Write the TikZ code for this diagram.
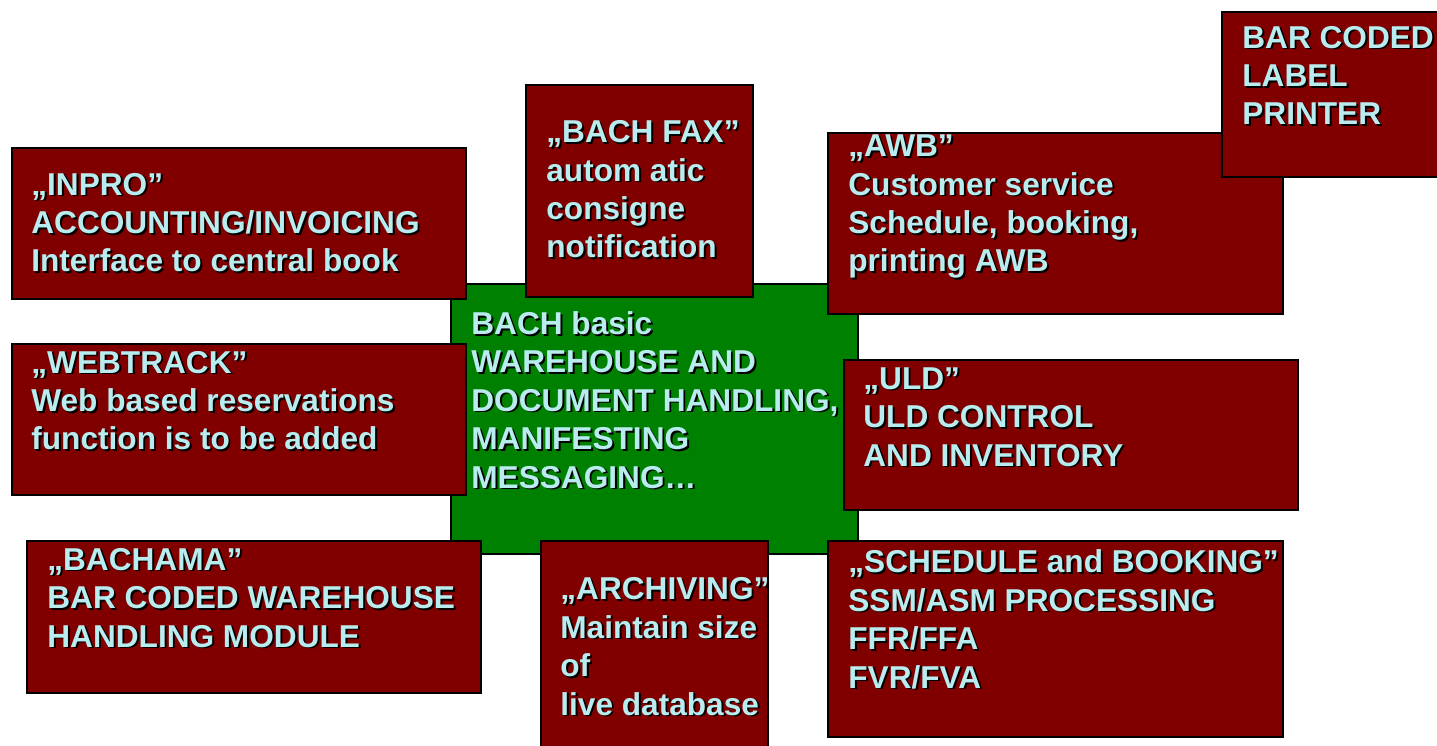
\documentclass[tikz,border=0pt]{standalone}
\usepackage{fontspec}
\setmainfont{Liberation Sans}
\usetikzlibrary{positioning}
\definecolor{boxred}{RGB}{128,0,0}
\definecolor{boxgreen}{RGB}{0,128,0}
\definecolor{txtcyan}{RGB}{185,236,238}
\tikzset{
redbox/.style={
  draw=black,
  line width=1pt,
  fill=boxred,
  anchor=north west,
  inner sep=0pt,
  }
}
\tikzset{
greenbox/.style={
  redbox,
  fill=boxgreen,
  }
}
\tikzset{
txt/.style={
  anchor=base west,
  align=left,
  inner sep=0pt,
  text=txtcyan,
  font=\bfseries\fontsize{18}{21.9}\selectfont,
  },
txtshadow/.style={
  txt,
  text=black,
  xshift=1.1pt,
  yshift=-1.1pt,
  }
}
% text with drop shadow, placed by the baseline of its last line
\newcommand{\shadedtext}[3]{%
  \node[txtshadow] (#1-sh) at (#2) {#3};
  \node[txt] (#1) at (#2) {#3};
}

\begin{document}
\begin{tikzpicture}[x=0.02cm,y=-0.02cm]
    \fill[white] (0,0) rectangle (1437,746);
    \useasboundingbox (0,0) rectangle (1437,746);

    % core system
    \node[greenbox, minimum width=8.14cm, minimum height=5.4cm] (core) at (450,283) {};
    \shadedtext{core_txt}{471,488}{BACH basic\\WAREHOUSE AND\\DOCUMENT HANDLING,\\MANIFESTING\\MESSAGING\dots}

    % left modules
    \node[redbox, minimum width=9.08cm, minimum height=3.02cm] (inpro) at (11,147) {};
    \shadedtext{inpro_txt}{31,272}{„INPRO”\\ACCOUNTING/INVOICING\\Interface to central book}
    \node[redbox, minimum width=9.08cm, minimum height=3.02cm] (webtrack) at (11,343) {};
    \shadedtext{webtrack_txt}{31,450}{„WEBTRACK”\\Web based reservations\\function is to be added}

    % top modules
    \node[redbox, minimum width=4.54cm, minimum height=4.24cm] (fax) at (525,84) {};
    \shadedtext{fax_txt}{546,258}{„BACH FAX”\\autom atic\\consigne\\notification}
    \node[redbox, minimum width=9.10cm, minimum height=3.62cm] (awb) at (827,132) {};
    \shadedtext{awb_txt}{848,272}{„AWB”\\Customer service\\Schedule, booking,\\printing AWB}
    \node[redbox, minimum width=4.8cm, minimum height=3.3cm] (printer) at (1221,11) {};
    \shadedtext{printer_txt}{1242,125}{BAR CODED\\LABEL\\PRINTER}

    % right module
    \node[redbox, minimum width=9.08cm, minimum height=3.0cm] (uld) at (843,359) {};
    \shadedtext{uld_txt}{863,466}{„ULD”\\ULD CONTROL\\AND INVENTORY}

    % bottom modules
    \node[redbox, minimum width=9.08cm, minimum height=3.04cm] (bachama) at (26,540) {};
    \shadedtext{bachama_txt}{47,647}{„BACHAMA”\\BAR CODED WAREHOUSE\\HANDLING MODULE}
    \node[redbox, minimum width=4.54cm, minimum height=4.4cm] (archive) at (540,540) {};
    \shadedtext{archive_txt}{560,715}{„ARCHIVING”\\Maintain size\\of\\live database}
    \node[redbox, minimum width=9.10cm, minimum height=3.92cm] (schedule) at (827,540) {};
    \shadedtext{schedule_txt}{848,688}{„SCHEDULE and BOOKING”\\SSM/ASM PROCESSING\\FFR/FFA\\FVR/FVA}
\end{tikzpicture}
\end{document}
